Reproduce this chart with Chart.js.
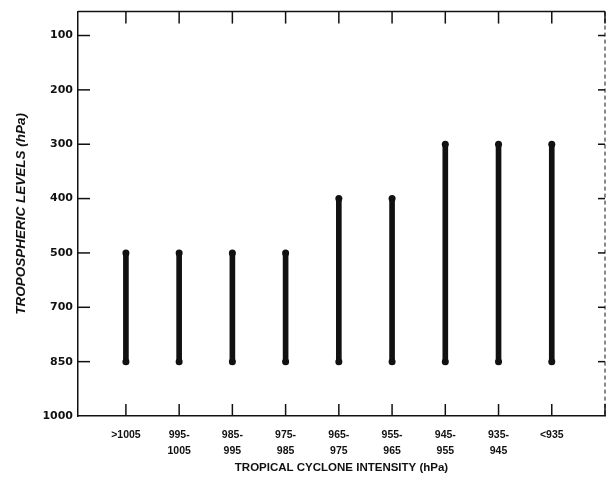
<!DOCTYPE html>
<html>
<head>
<meta charset="utf-8">
<script src="https://cdn.jsdelivr.net/npm/chart.js@4.4.0/dist/chart.umd.min.js"></script>
<style>
  html, body { margin: 0; padding: 0; background: #fff; }
  #wrap { width: 609px; height: 490px; }
</style>
</head>
<body>
<div id="wrap"><canvas id="chart"></canvas></div>
<script>
/* ===== Tropospheric levels vs tropical cyclone intensity ===== */

const INTENSITY = [
  ['>1005'], ['995-', '1005'], ['985-', '995'], ['975-', '985'], ['965-', '975'],
  ['955-', '965'], ['945-', '955'], ['935-', '945'], ['<935'],
];
const LEVELS = ['1000', '850', '700', '500', '400', '300', '200', '100'];
const BOTTOM_LEVEL = ['850', '850', '850', '850', '850', '850', '850', '850', '850'];
const TOP_LEVEL = ['500', '500', '500', '500', '400', '400', '300', '300', '300'];

const INK = '#111';

// levels are equally spaced on the axis, so plot by their index
const lvl = l => LEVELS.indexOf(l);

const bars = INTENSITY.map((c, i) => ({ x: i + 1, y: [lvl(BOTTOM_LEVEL[i]), lvl(TOP_LEVEL[i])] }));
const caps = [];
INTENSITY.forEach((c, i) => {
  caps.push({ x: i + 1, y: lvl(BOTTOM_LEVEL[i]) });
  caps.push({ x: i + 1, y: lvl(TOP_LEVEL[i]) });
});

/* ---------- frame + inward ticks ---------- */

const framePlugin = {
  id: 'frame',
  afterDraw(chart) {
    const { ctx, chartArea: a, scales: { x, y } } = chart;
    const line = (x1, y1, x2, y2) => { ctx.beginPath(); ctx.moveTo(x1, y1); ctx.lineTo(x2, y2); ctx.stroke(); };
    ctx.save();
    ctx.strokeStyle = INK;
    ctx.lineWidth = 1.5;
    line(a.left, a.top, a.right, a.top);
    ctx.lineWidth = 1;
    ctx.setLineDash([4, 3]);
    line(a.right, a.top, a.right, a.bottom);
    ctx.setLineDash([]);
    ctx.lineWidth = 1.5;
    x.ticks.forEach(t => {
      const px = x.getPixelForValue(t.value);
      line(px, a.bottom, px, a.bottom - 12);
      line(px, a.top, px, a.top + 12);
    });
    y.ticks.forEach(t => {
      if (t.value === 0) return;
      const py = y.getPixelForValue(t.value);
      line(a.left, py, a.left + 12, py);
      line(a.right, py, a.right - 7, py);
    });
    ctx.restore();
  },
};

new Chart(document.getElementById('chart'), {
  type: 'bar',
  data: {
    datasets: [
      {
        type: 'bar',
        data: bars,
        backgroundColor: INK,
        barThickness: 5,
        borderSkipped: false,
      },
      {
        type: 'scatter',
        data: caps,
        pointRadius: 3.5,
        pointBackgroundColor: INK,
        pointBorderWidth: 0,
        showLine: false,
      },
    ],
  },
  options: {
    responsive: true,
    maintainAspectRatio: false,
    animation: false,
    layout: { padding: { top: 10, right: 4, left: 0, bottom: 0 } },
    plugins: { legend: { display: false }, tooltip: { enabled: false } },
    scales: {
      x: {
        type: 'linear',
        offset: false,
        min: 0.1,
        max: 10,
        afterBuildTicks: s => { s.ticks = INTENSITY.map((c, i) => ({ value: i + 1 })).concat([{ value: 10 }]); },
        afterFit: s => { s.height = 74; s.paddingRight = 0; s.paddingLeft = 0; },
        grid: { display: false, drawTicks: false, offset: false },
        border: { display: true, color: INK, width: 1.5 },
        ticks: {
          padding: 11,
          autoSkip: false,
          maxRotation: 0,
          color: INK,
          font: { family: 'Liberation Sans', weight: 'bold', size: 10.5, lineHeight: 1.55 },
          callback: v => INTENSITY[v - 1] || '',
        },
        title: {
          display: true,
          text: 'TROPICAL CYCLONE INTENSITY (hPa)',
          color: INK,
          font: { family: 'Liberation Sans', weight: 'bold', size: 11.5 },
          padding: { top: 0, bottom: 15 },
        },
      },
      y: {
        type: 'linear',
        min: 0,
        max: 7.44,
        afterBuildTicks: s => { s.ticks = LEVELS.map((l, i) => ({ value: i })); },
        afterFit: s => { s.width = 78; },
        grid: { display: false, drawTicks: false },
        border: { display: true, color: INK, width: 1.5 },
        ticks: {
          padding: 5,
          color: INK,
          font: { family: 'DejaVu Sans', weight: 'bold', size: 11 },
          callback: v => LEVELS[v],
        },
        title: {
          display: true,
          text: 'TROPOSPHERIC LEVELS (hPa)',
          color: INK,
          font: { family: 'Liberation Sans', weight: 'bold', style: 'italic', size: 13.5 },
          padding: { top: 13, bottom: 0 },
        },
      },
    },
  },
  plugins: [framePlugin],
});
</script>
</body>
</html>
